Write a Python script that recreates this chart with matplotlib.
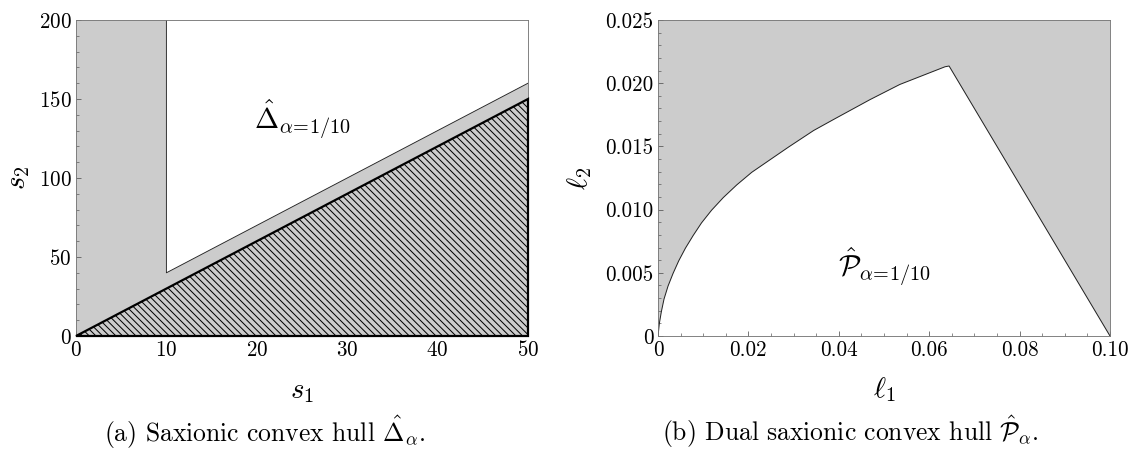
import numpy as np
import matplotlib
matplotlib.use("Agg")
import matplotlib.pyplot as plt

plt.rcParams['font.family'] = 'serif'
plt.rcParams['font.serif'] = ['cmr10']
plt.rcParams['mathtext.fontset'] = 'cm'
plt.rcParams['axes.unicode_minus'] = False
plt.rcParams['axes.formatter.use_mathtext'] = True
plt.rcParams['hatch.linewidth'] = 0.9

# (a) saxionic convex hull
hull_s1 = [10, 10, 50, 50]
hull_s2 = [200, 40, 160, 200]
cone_s1 = [0, 50, 50]
cone_s2 = [0, 150, 0]
s1_ticks = [0, 10, 20, 30, 40, 50]
s2_ticks = [0, 50, 100, 150, 200]

# (b) dual saxionic convex hull, boundary
dual_l1 = [0, 0.0003, 0.00074, 0.00133, 0.00222, 0.00333, 0.00459, 0.00607,
           0.00778, 0.00963, 0.01185, 0.01444, 0.01741, 0.02074, 0.02481,
           0.02889, 0.03444, 0.0392, 0.0469, 0.0535, 0.0635, 0.0644, 0.1]
dual_l2 = [0, 0.0010, 0.00192, 0.00292, 0.00395, 0.00495, 0.00595, 0.00695,
           0.00795, 0.00895, 0.00995, 0.01095, 0.01195, 0.01295, 0.01395,
           0.01495, 0.01626, 0.0172, 0.0187, 0.0199, 0.0213, 0.02136, 0]
l1_ticks = [0, 0.02, 0.04, 0.06, 0.08, 0.10]
l1_labels = ['0', '0.02', '0.04', '0.06', '0.08', '0.10']
l2_ticks = [0, 0.005, 0.010, 0.015, 0.020, 0.025]
l2_labels = ['0', '0.005', '0.010', '0.015', '0.020', '0.025']

gray = '#cccccc'
dpi = 80
fig = plt.figure(figsize=(1130 / dpi, 450 / dpi), dpi=dpi)
ax1 = fig.add_axes([76 / 1130, 114 / 450, 452 / 1130, 316 / 450])
ax2 = fig.add_axes([658 / 1130, 114 / 450, 452 / 1130, 316 / 450])


def style(ax):
    for sp in ax.spines.values():
        sp.set_color('#777777')
        sp.set_linewidth(0.8)
    ax.tick_params(which='both', direction='in', top=False, right=False,
                   color='#555555', labelsize=19, pad=4)
    ax.tick_params(which='major', length=4.5, width=0.7)
    ax.tick_params(which='minor', length=2.5, width=0.6)
    ax.set_facecolor(gray)


# left panel
style(ax1)
ax1.fill(hull_s1, hull_s2, color='white', lw=0)
ax1.plot(hull_s1[:3], hull_s2[:3], color='#222222', lw=0.8)
ax1.fill(cone_s1, cone_s2, facecolor=gray, edgecolor='black', hatch='\\\\\\\\',
         lw=2.0, clip_on=False, zorder=3)
ax1.set_xlim(0, 50)
ax1.set_ylim(0, 200)
ax1.set_xticks(s1_ticks)
ax1.set_yticks(s2_ticks)
ax1.set_xticks(np.arange(0, 51, 2), minor=True)
ax1.set_yticks(np.arange(0, 201, 10), minor=True)
ax1.set_xlabel('$s_1$', fontsize=26, labelpad=16)
ax1.set_ylabel('$s_2$', fontsize=26, labelpad=6)
ax1.text(25, 137, r'$\hat{\Delta}_{\alpha\!=\!1/10}$', fontsize=26,
         ha='center', va='center')

# right panel
style(ax2)
ax2.fill(dual_l1, dual_l2, color='white', lw=0)
ax2.plot(dual_l1, dual_l2, color='#222222', lw=0.9)
ax2.set_xlim(0, 0.1)
ax2.set_ylim(0, 0.025)
ax2.set_xticks(l1_ticks)
ax2.set_xticklabels(l1_labels)
ax2.set_yticks(l2_ticks)
ax2.set_yticklabels(l2_labels)
ax2.set_xticks(np.arange(0, 0.1001, 0.005), minor=True)
ax2.set_yticks(np.arange(0, 0.02501, 0.001), minor=True)
ax2.set_xlabel(r'$\ell_1$', fontsize=26, labelpad=14)
ax2.set_ylabel(r'$\ell_2$', fontsize=26, labelpad=10)
ax2.text(0.05, 0.0055, r'$\hat{\mathcal{P}}_{\alpha\!=\!1/10}$', fontsize=26,
         ha='center', va='center')

fig.text(265 / 1130, 1 - 432 / 450,
         r'(a) Saxionic convex hull $\hat{\Delta}_\alpha$.',
         fontsize=23, ha='center', va='center')
fig.text(850 / 1130, 1 - 432 / 450,
         r'(b) Dual saxionic convex hull $\hat{\mathcal{P}}_\alpha$.',
         fontsize=23, ha='center', va='center')

fig.savefig('out.png', dpi=dpi)
